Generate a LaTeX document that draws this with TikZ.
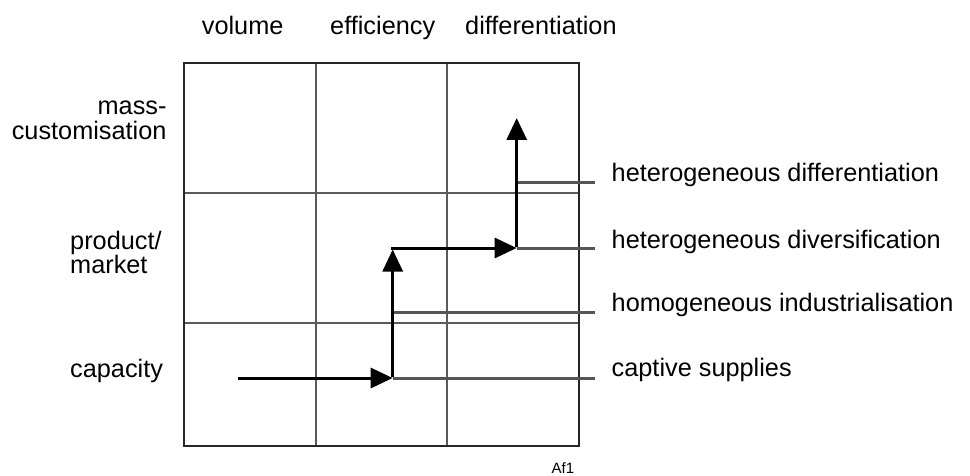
\documentclass[tikz,border=0pt]{standalone}
\usepackage{fontspec}
\setmainfont{Liberation Sans}
\usetikzlibrary{arrows.meta}
\definecolor{gridgray}{HTML}{5A5A5A}
\definecolor{linegray}{HTML}{555555}
\tikzset{
  lbl/.style={inner sep=0pt, font=\fontsize{25.3}{26}\selectfont},
  gridline/.style={draw=gridgray, line width=1.3pt},
  border/.style={draw=black!85, line width=1.8pt},
  path arrow/.style={draw=black, line width=3pt, -{Triangle[width=20pt,length=22pt]}},
  levelline/.style={draw=linegray, line width=3pt},
}
\begin{document}
\begin{tikzpicture}[x=1pt,y=-1pt]
\useasboundingbox (0,0) rectangle (970,476);
% grid
\draw[gridline] (316,63) -- (316,446) (447,63) -- (447,446)
                (184,193) -- (579,193) (184,323) -- (579,323);
\draw[border] (184,63) rectangle (579,446);
% column labels
\node[lbl, anchor=base west] (volume) at (201.7,35) {volume};
\node[lbl, anchor=base west] (efficiency) at (330,35) {efficiency};
\node[lbl, anchor=base west] (differentiation) at (465,35) {differentiation};
% row labels
\node[lbl, anchor=base east] (mass1) at (166.7,114.3) {mass-};
\node[lbl, anchor=base east] (mass2) at (166.7,140) {customisation};
\node[lbl, anchor=base west] (prod1) at (70,249) {product/};
\node[lbl, anchor=base west] (prod2) at (70,273.3) {market};
\node[lbl, anchor=base west] (capacity) at (70,377) {capacity};
% path points
\coordinate (s0) at (238.3,378);
\coordinate (p1) at (392.7,378);
\coordinate (p2) at (392.7,248);
\coordinate (p3) at (516.7,248);
\coordinate (p4) at (516.7,118);
\coordinate (q4) at (516.7,183);
\coordinate (q2) at (392.7,312);
% level lines end points
\coordinate (e1) at (595,183);
\coordinate (e2) at (595,248);
\coordinate (e3) at (595,312);
\coordinate (e4) at (595,378);
\draw[levelline] (q4) -- (e1);
\draw[levelline] (p3) -- (e2);
\draw[levelline] (q2) -- (e3);
\draw[levelline] (p1) -- (e4);
% arrows
\draw[path arrow] (s0) -- (p1);
\draw[path arrow] ([yshift=1.5pt]p1) -- ([yshift=-1.5pt]p2);
\draw[path arrow] ([xshift=-1.5pt]p2) -- (p3);
\draw[path arrow] ([yshift=1.5pt]p3) -- (p4);
% level labels
\node[lbl, anchor=base west] (hd) at (611.5,181.7) {heterogeneous differentiation};
\node[lbl, anchor=base west] (hv) at (611.5,248.3) {heterogeneous diversification};
\node[lbl, anchor=base west] (hi) at (611.5,311.7) {homogeneous industrialisation};
\node[lbl, anchor=base west] (cs) at (611.5,376.7) {captive supplies};
% tag
\node[inner sep=0pt, anchor=base west, font=\fontsize{15}{15}\selectfont] (tag) at (551.5,473) {Af1};
\end{tikzpicture}
\end{document}
